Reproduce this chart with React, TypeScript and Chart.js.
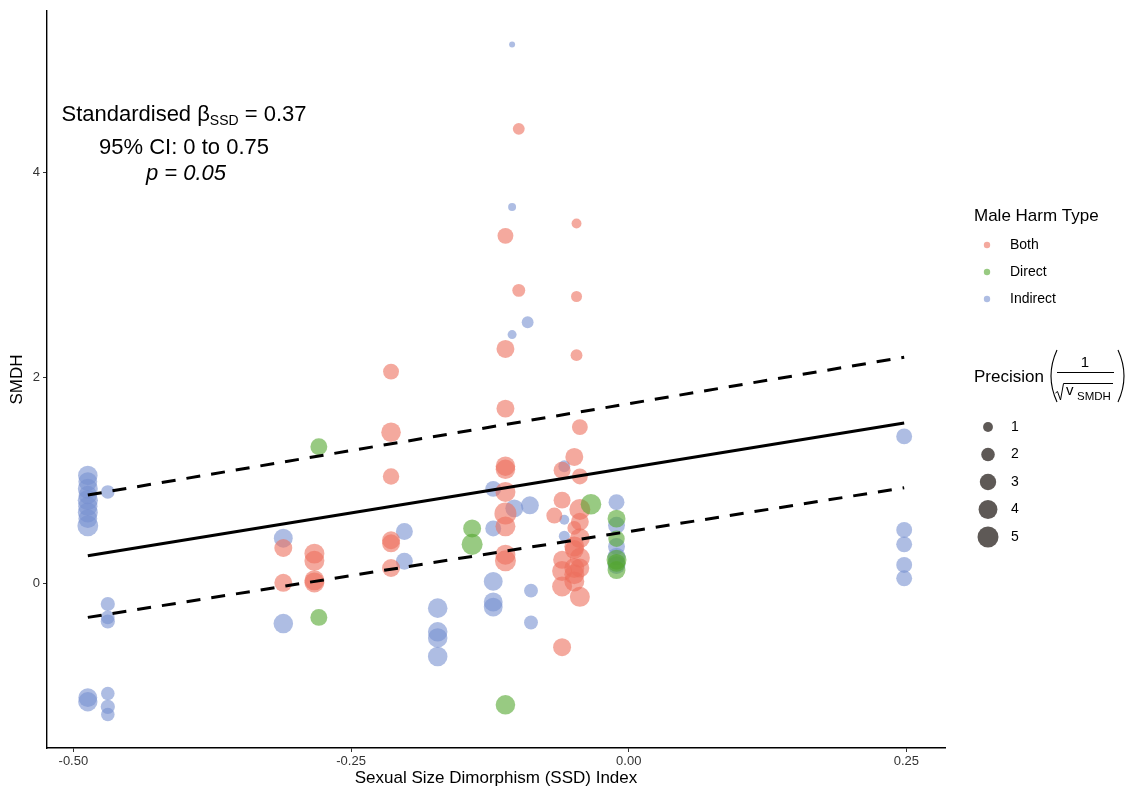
import React, { useEffect, useRef } from 'react';
import { Chart, registerables } from 'chart.js';

Chart.register(...registerables);

const FONT = '"Liberation Sans", Arial, Helvetica, sans-serif';

// ---- axis ticks ----
const xTicks = [-0.5, -0.25, 0, 0.25];
const yTicks = [0, 2, 4];
const xRange = [-0.52375, 0.28475];
const yRange = [-1.6, 5.566];

// ---- Both (red) ----
const bothX = [
  -0.311, -0.311,
  -0.283, -0.283, -0.283, -0.283,
  -0.214, -0.214, -0.214, -0.214, -0.214, -0.214,
  -0.111, -0.111, -0.111, -0.111, -0.111, -0.111, -0.111, -0.111, -0.111, -0.111,
  -0.099, -0.099,
  -0.060, -0.060, -0.067, -0.060, -0.060, -0.060, -0.060,
  -0.047, -0.047, -0.047, -0.044, -0.049, -0.044, -0.044, -0.044, -0.049, -0.044, -0.049, -0.049, -0.044, -0.049, -0.049, -0.044, -0.049, -0.044,
];
const bothY = [
  0.345, 0.006,
  0.29, 0.22, 0.03, 0.01,
  2.06, 1.47, 1.04, 0.42, 0.39, 0.15,
  3.38, 2.28, 1.70, 1.14, 1.11, 0.89, 0.68, 0.555, 0.28, 0.22,
  4.42, 2.85,
  1.10, 0.81, 0.66, 0.23, 0.12, -0.03, -0.62,
  3.50, 2.79, 2.22, 1.52, 1.23, 1.04, 0.72, 0.60, 0.54, 0.44, 0.36, 0.33, 0.25, 0.15, 0.09, 0.15, 0.02, -0.13,
];
const bothP = [
  3.6, 3.6,
  4.5, 4.5, 4.5, 4.5,
  2.8, 4.3, 3.0, 3.6, 3.6, 3.6,
  2.8, 3.6, 3.6, 4.3, 4.3, 4.5, 5.5, 4.5, 4.5, 5.0,
  1.5, 1.8,
  3.2, 3.2, 2.8, 3.6, 4.5, 4.5, 3.6,
  1.0, 1.27, 1.5, 2.8, 3.6, 2.8, 5.0, 3.6, 2.1, 4.5, 4.5, 4.0, 4.5, 4.5, 4.5, 4.0, 4.5, 4.5,
];

// ---- Direct (green) ----
const directX = [-0.279, -0.279, -0.141, -0.141, -0.111, -0.034, -0.011, -0.011, -0.011, -0.011, -0.011];
const directY = [1.33, -0.33, 0.535, 0.38, -1.18, 0.77, 0.63, 0.435, 0.23, 0.20, 0.13];
const directP = [3.2, 3.2, 3.6, 5.0, 4.3, 4.8, 3.6, 3.0, 4.5, 3.6, 3.6];

// ---- Indirect (blue) ----
const indirectX = [
  -0.487, -0.487, -0.487, -0.487, -0.487, -0.487, -0.487, -0.487, -0.487,
  -0.487, -0.487,
  -0.469, -0.469, -0.469, -0.469, -0.469, -0.469, -0.469,
  -0.311, -0.311,
  -0.202, -0.202,
  -0.172, -0.172, -0.172, -0.172,
  -0.122, -0.122, -0.122, -0.122, -0.122,
  -0.105, -0.105, -0.105, -0.091, -0.103, -0.089, -0.088, -0.088,
  -0.058, -0.058, -0.058,
  -0.011, -0.011, -0.011, -0.011, -0.011,
  0.248, 0.248, 0.248, 0.248, 0.248,
];
const indirectY = [
  1.05, 0.99, 0.92, 0.86, 0.81, 0.75, 0.69, 0.63, 0.56,
  -1.11, -1.15,
  0.89, -0.20, -0.33, -0.37, -1.07, -1.20, -1.275,
  0.44, -0.39,
  0.505, 0.215,
  -0.24, -0.47, -0.53, -0.71,
  0.92, 0.535, 0.02, -0.18, -0.23,
  5.24, 3.66, 2.42, 2.54, 0.73, 0.76, -0.07, -0.38,
  1.14, 0.62, 0.46,
  0.79, 0.565, 0.36, 0.26, 0.18,
  1.43, 0.52, 0.38, 0.18, 0.05,
];
const indirectP = [
  4.3, 4.0, 4.5, 3.8, 4.6, 4.2, 4.5, 4.0, 4.9,
  4.0, 4.2,
  2.0, 2.2, 2.0, 2.2, 2.0, 2.2, 2.0,
  4.0, 4.3,
  3.2, 3.2,
  4.3, 4.3, 4.3, 4.3,
  2.8, 2.8, 4.0, 4.0, 4.0,
  0.28, 0.6, 0.8, 1.5, 3.6, 3.6, 2.1, 2.1,
  1.5, 1.0, 1.27,
  2.8, 3.2, 3.2, 3.6, 3.6,
  2.8, 2.8, 2.8, 2.8, 2.8,
];

// ---- regression fit and CI ----
const fitX = [-0.487, 0.248];
const fitY = [0.27, 1.56];
const upperY = [0.86, 2.2];
const lowerY = [-0.33, 0.93];

// ---- legends ----
const typeLabels = ['Both', 'Direct', 'Indirect'];
const typeColors = ['rgba(236,112,93,0.6)', 'rgba(83,166,46,0.6)', 'rgba(120,145,208,0.6)'];
const sizeLegend = [1, 2, 3, 4, 5];

const radiusOf = (p: number) => Math.sqrt(3 + 21.5 * p);

const toPoints = (xs: number[], ys: number[], ps: number[]) =>
  xs.map((x, i) => ({ x, y: ys[i], p: ps[i] }));

const overlay = {
  id: 'overlay',
  afterDraw(chart: any) {
    const ctx: CanvasRenderingContext2D = chart.ctx;
    ctx.save();
    ctx.fillStyle = '#000';
    ctx.textBaseline = 'alphabetic';

    // annotation
    const big = `22px ${FONT}`;
    const sub = `14px ${FONT}`;
    ctx.font = big;
    const w1 = ctx.measureText('Standardised \u03B2').width;
    const w3 = ctx.measureText(' = 0.37').width;
    ctx.font = sub;
    const w2 = ctx.measureText('SSD').width;
    const x0 = 184 - (w1 + w2 + w3) / 2;
    ctx.textAlign = 'left';
    ctx.font = big;
    ctx.fillText('Standardised \u03B2', x0, 121);
    ctx.font = sub;
    ctx.fillText('SSD', x0 + w1, 125);
    ctx.font = big;
    ctx.fillText(' = 0.37', x0 + w1 + w2, 121);
    ctx.textAlign = 'center';
    ctx.fillText('95% CI: 0 to 0.75', 184, 154);
    ctx.font = `italic 22px ${FONT}`;
    ctx.fillText('p = 0.05', 186, 180);

    // colour legend
    ctx.textAlign = 'left';
    ctx.font = `17px ${FONT}`;
    ctx.fillText('Male Harm Type', 974, 221);
    ctx.textBaseline = 'middle';
    typeLabels.forEach((lab, i) => {
      const y = 245 + i * 27;
      ctx.fillStyle = typeColors[i];
      ctx.beginPath();
      ctx.arc(987, y, 3.2, 0, Math.PI * 2);
      ctx.fill();
      ctx.fillStyle = '#000';
      ctx.font = `14px ${FONT}`;
      ctx.fillText(lab, 1010, y);
    });

    // precision legend title
    ctx.textBaseline = 'alphabetic';
    ctx.font = `17px ${FONT}`;
    ctx.fillText('Precision', 974, 382);
    ctx.strokeStyle = '#000';
    ctx.lineWidth = 1.1;
    ctx.beginPath();
    ctx.moveTo(1057, 350);
    ctx.quadraticCurveTo(1045, 376, 1057, 402);
    ctx.stroke();
    ctx.beginPath();
    ctx.moveTo(1118, 350);
    ctx.quadraticCurveTo(1130, 376, 1118, 402);
    ctx.stroke();
    ctx.textAlign = 'center';
    ctx.font = `15px ${FONT}`;
    ctx.fillText('1', 1085, 367);
    ctx.lineWidth = 1;
    ctx.beginPath();
    ctx.moveTo(1057, 372.5);
    ctx.lineTo(1114, 372.5);
    ctx.stroke();
    ctx.beginPath();
    ctx.moveTo(1055.5, 393);
    ctx.lineTo(1057.5, 391.5);
    ctx.lineTo(1060.5, 400);
    ctx.lineTo(1063.5, 383.5);
    ctx.lineTo(1113, 383.5);
    ctx.stroke();
    ctx.textAlign = 'left';
    ctx.font = `15px ${FONT}`;
    ctx.fillText('v', 1066, 395);
    ctx.font = `11.5px ${FONT}`;
    ctx.fillText('SMDH', 1077, 400);

    // size legend
    ctx.textBaseline = 'middle';
    sizeLegend.forEach((p, i) => {
      const y = 427 + i * 27.5;
      ctx.fillStyle = 'rgba(40,33,30,0.75)';
      ctx.beginPath();
      ctx.arc(988, y, radiusOf(p), 0, Math.PI * 2);
      ctx.fill();
      ctx.fillStyle = '#000';
      ctx.font = `14px ${FONT}`;
      ctx.fillText(String(p), 1011, y);
    });
    ctx.restore();
  },
};

export default function App() {
  const ref = useRef<HTMLCanvasElement>(null);

  useEffect(() => {
    const canvas = ref.current;
    if (!canvas) return;
    const pointDs = (label: string, xs: number[], ys: number[], ps: number[], color: string, order: number) => ({
      type: 'scatter' as const,
      label,
      data: toPoints(xs, ys, ps),
      backgroundColor: color,
      borderWidth: 0,
      pointRadius: (c: any) => radiusOf(c.raw ? c.raw.p : 1),
      pointHoverRadius: (c: any) => radiusOf(c.raw ? c.raw.p : 1),
      order,
    });
    const lineDs = (ys: number[], dash: number[]) => ({
      type: 'line' as const,
      data: fitX.map((x, i) => ({ x, y: ys[i] })),
      borderColor: '#000',
      borderWidth: 3,
      borderDash: dash,
      borderCapStyle: 'butt' as const,
      pointRadius: 0,
      fill: false,
      tension: 0,
      order: 0,
    });

    const chart = new Chart(canvas, {
      type: 'scatter',
      data: {
        datasets: [
          lineDs(fitY, []),
          lineDs(upperY, [14, 11]),
          lineDs(lowerY, [14, 11]),
          pointDs('Direct', directX, directY, directP, typeColors[1], 1),
          pointDs('Both', bothX, bothY, bothP, typeColors[0], 2),
          pointDs('Indirect', indirectX, indirectY, indirectP, typeColors[2], 3),
        ] as any,
      },
      options: {
        responsive: false,
        animation: false,
        devicePixelRatio: 1,
        layout: { padding: { top: 7, right: 192, left: 0, bottom: 0 } },
        plugins: { legend: { display: false }, tooltip: { enabled: false } },
        events: [],
        scales: {
          x: {
            type: 'linear',
            min: xRange[0],
            max: xRange[1],
            afterBuildTicks: (s: any) => {
              s.ticks = xTicks.map((v) => ({ value: v }));
            },
            afterFit: (s: any) => {
              s.height = 46;
            },
            ticks: {
              color: '#333',
              font: { family: FONT, size: 13 },
              padding: 2,
              callback: (v: any) => Number(v).toFixed(2),
            },
            grid: { display: true, drawOnChartArea: false, drawTicks: true, tickLength: 4, color: '#333', lineWidth: 1 },
            border: { display: true, color: '#000', width: 1.4 },
            title: {
              display: true,
              text: 'Sexual Size Dimorphism (SSD) Index',
              color: '#000',
              font: { family: FONT, size: 17 },
              padding: { top: 0, bottom: 5 },
            },
          },
          y: {
            type: 'linear',
            min: yRange[0],
            max: yRange[1],
            afterBuildTicks: (s: any) => {
              s.ticks = yTicks.map((v) => ({ value: v }));
            },
            afterFit: (s: any) => {
              s.width = 47;
            },
            ticks: {
              color: '#333',
              font: { family: FONT, size: 13 },
              padding: 3,
              callback: (v: any) => String(v),
            },
            grid: { display: true, drawOnChartArea: false, drawTicks: true, tickLength: 4, color: '#333', lineWidth: 1 },
            border: { display: true, color: '#000', width: 1.4 },
            title: {
              display: true,
              text: 'SMDH',
              color: '#000',
              font: { family: FONT, size: 17 },
              padding: { top: 7, bottom: 0 },
            },
          },
        },
      },
      plugins: [overlay],
    });
    return () => chart.destroy();
  }, []);

  return (
    <div style={{ position: 'fixed', left: 0, top: 0, width: 1137, height: 794, background: '#fff' }}>
      <canvas ref={ref} width={1137} height={794} style={{ width: 1137, height: 794, display: 'block' }} />
    </div>
  );
}
